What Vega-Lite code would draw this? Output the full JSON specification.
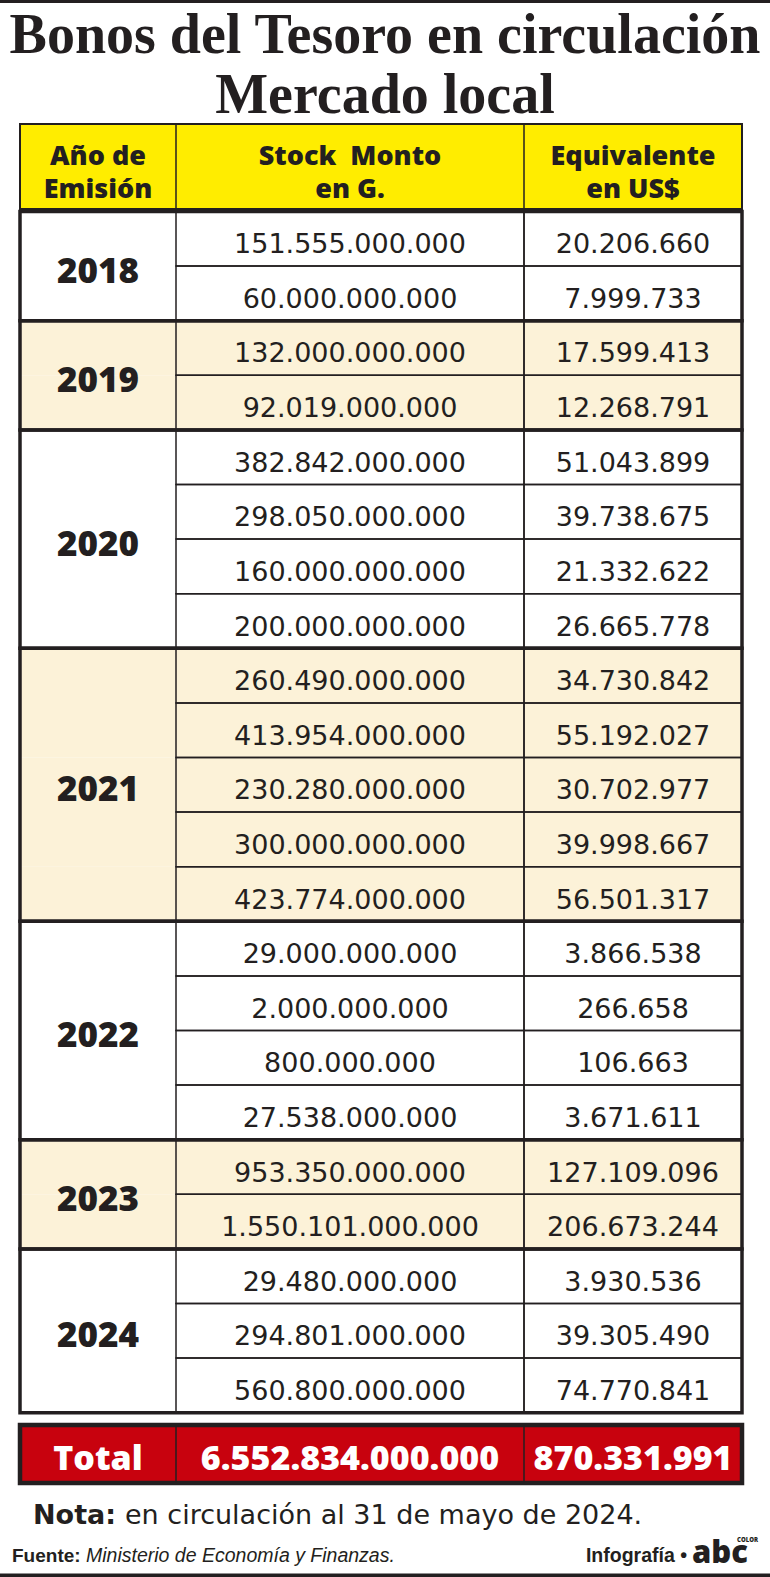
{
  "$schema": "https://vega.github.io/schema/vega-lite/v6.json",
  "width": 770,
  "height": 1577,
  "autosize": {"type": "fit", "contains": "padding"},
  "padding": 0,
  "background": "#ffffff",
  "config": {
    "view": {"stroke": null},
    "locale": {"number": {"decimal": ",", "thousands": ".", "grouping": [3], "currency": ["", ""]}}
  },
  "datasets": {
    "bonos": [
      {"year": "2018", "r": 1, "monto_g": 151555000000, "usd": 20206660},
      {"year": "2018", "r": 2, "monto_g": 60000000000, "usd": 7999733},
      {"year": "2019", "r": 3, "monto_g": 132000000000, "usd": 17599413},
      {"year": "2019", "r": 4, "monto_g": 92019000000, "usd": 12268791},
      {"year": "2020", "r": 5, "monto_g": 382842000000, "usd": 51043899},
      {"year": "2020", "r": 6, "monto_g": 298050000000, "usd": 39738675},
      {"year": "2020", "r": 7, "monto_g": 160000000000, "usd": 21332622},
      {"year": "2020", "r": 8, "monto_g": 200000000000, "usd": 26665778},
      {"year": "2021", "r": 9, "monto_g": 260490000000, "usd": 34730842},
      {"year": "2021", "r": 10, "monto_g": 413954000000, "usd": 55192027},
      {"year": "2021", "r": 11, "monto_g": 230280000000, "usd": 30702977},
      {"year": "2021", "r": 12, "monto_g": 300000000000, "usd": 39998667},
      {"year": "2021", "r": 13, "monto_g": 423774000000, "usd": 56501317},
      {"year": "2022", "r": 14, "monto_g": 29000000000, "usd": 3866538},
      {"year": "2022", "r": 15, "monto_g": 2000000000, "usd": 266658},
      {"year": "2022", "r": 16, "monto_g": 800000000, "usd": 106663},
      {"year": "2022", "r": 17, "monto_g": 27538000000, "usd": 3671611},
      {"year": "2023", "r": 18, "monto_g": 953350000000, "usd": 127109096},
      {"year": "2023", "r": 19, "monto_g": 1550101000000, "usd": 206673244},
      {"year": "2024", "r": 20, "monto_g": 29480000000, "usd": 3930536},
      {"year": "2024", "r": 21, "monto_g": 294801000000, "usd": 39305490},
      {"year": "2024", "r": 22, "monto_g": 560800000000, "usd": 74770841}
    ],
    "total": [{"concepto": "Total", "monto_g": 6552834000000, "usd": 870331991}],
    "encabezado": [
      {"col": "anio", "l1": "Año de", "l2": "Emisión"},
      {"col": "monto", "l1": "Stock\u00a0 Monto", "l2": "en G."},
      {"col": "usd", "l1": "Equivalente", "l2": "en US$"}
    ],
    "titulos": [
      {"parte": "titulo", "t": "Bonos del Tesoro en circulación"},
      {"parte": "subtitulo", "t": "Mercado local"},
      {"parte": "nota_b", "t": "Nota:"},
      {"parte": "nota", "t": "en circulación al 31 de mayo de 2024."},
      {"parte": "fuente_b", "t": "Fuente:"},
      {"parte": "fuente", "t": "Ministerio de Economía y Finanzas."},
      {"parte": "infografia", "t": "Infografía •"},
      {"parte": "logo", "t": "abc"},
      {"parte": "logo2", "t": "COLOR"}
    ]
  },
  "layer": [
    {
      "data": {"values": [{}]},
      "mark": {"type": "rect", "color": "#231f20"},
      "encoding": {
        "x": {"datum": 0, "type": "quantitative", "scale": {"domain": [0, 770], "nice": false, "zero": false}, "axis": null},
        "x2": {"datum": 770},
        "y": {"datum": -3.3736, "type": "quantitative", "scale": {"domain": [-3.3736, 25.5091], "nice": false, "zero": false, "reverse": true}, "axis": null},
        "y2": {"datum": -3.3187}
      }
    },
    {
      "data": {"values": [{}]},
      "mark": {"type": "rect", "color": "#231f20"},
      "encoding": {
        "x": {"datum": 0, "type": "quantitative", "axis": null},
        "x2": {"datum": 770},
        "y": {"datum": 25.445, "type": "quantitative", "axis": null},
        "y2": {"datum": 25.5091}
      }
    },
    {
      "data": {"name": "titulos"},
      "transform": [{"filter": "datum.parte === 'titulo'"}],
      "mark": {"type": "text", "font": "Liberation Serif", "fontWeight": "bold", "fontSize": 56, "align": "center", "baseline": "alphabetic", "color": "#231f20"},
      "encoding": {
        "x": {"datum": 385, "type": "quantitative", "axis": null},
        "y": {"datum": -2.403, "type": "quantitative", "axis": null},
        "text": {"field": "t"}
      }
    },
    {
      "data": {"name": "titulos"},
      "transform": [{"filter": "datum.parte === 'subtitulo'"}],
      "mark": {"type": "text", "font": "Liberation Serif", "fontWeight": "bold", "fontSize": 56, "align": "center", "baseline": "alphabetic", "color": "#231f20"},
      "encoding": {
        "x": {"datum": 385, "type": "quantitative", "axis": null},
        "y": {"datum": -1.304, "type": "quantitative", "axis": null},
        "text": {"field": "t"}
      }
    },
    {
      "data": {"values": [{}]},
      "mark": {"type": "rect", "fill": "#FFED00", "stroke": "#231f20", "strokeWidth": 2},
      "encoding": {
        "x": {"datum": 20, "type": "quantitative", "axis": null},
        "x2": {"datum": 742},
        "y": {"datum": -1.1026, "type": "quantitative", "axis": null},
        "y2": {"datum": 0.4542}
      }
    },
    {
      "data": {"values": [{}]},
      "mark": {"type": "rule", "color": "#231f20", "strokeWidth": 1.5},
      "encoding": {
        "x": {"datum": 176, "type": "quantitative", "axis": null},
        "y": {"datum": -1.1026, "type": "quantitative", "axis": null},
        "y2": {"datum": 0.4542}
      }
    },
    {
      "data": {"values": [{}]},
      "mark": {"type": "rule", "color": "#231f20", "strokeWidth": 1.5},
      "encoding": {
        "x": {"datum": 524, "type": "quantitative", "axis": null},
        "y": {"datum": -1.1026, "type": "quantitative", "axis": null},
        "y2": {"datum": 0.4542}
      }
    },
    {
      "data": {"name": "encabezado"},
      "transform": [{"filter": "datum.col === 'anio'"}],
      "mark": {"type": "text", "font": "Open Sans", "fontWeight": 800, "fontSize": 27, "align": "center", "baseline": "alphabetic", "color": "#231f20"},
      "encoding": {
        "x": {"datum": 98, "type": "quantitative", "axis": null},
        "y": {"datum": -0.357, "type": "quantitative", "axis": null},
        "text": {"field": "l1"}
      }
    },
    {
      "data": {"name": "encabezado"},
      "transform": [{"filter": "datum.col === 'anio'"}],
      "mark": {"type": "text", "font": "Open Sans", "fontWeight": 800, "fontSize": 27, "align": "center", "baseline": "alphabetic", "color": "#231f20"},
      "encoding": {
        "x": {"datum": 98, "type": "quantitative", "axis": null},
        "y": {"datum": 0.253, "type": "quantitative", "axis": null},
        "text": {"field": "l2"}
      }
    },
    {
      "data": {"name": "encabezado"},
      "transform": [{"filter": "datum.col === 'monto'"}],
      "mark": {"type": "text", "font": "Open Sans", "fontWeight": 800, "fontSize": 27, "align": "center", "baseline": "alphabetic", "color": "#231f20"},
      "encoding": {
        "x": {"datum": 350, "type": "quantitative", "axis": null},
        "y": {"datum": -0.357, "type": "quantitative", "axis": null},
        "text": {"field": "l1"}
      }
    },
    {
      "data": {"name": "encabezado"},
      "transform": [{"filter": "datum.col === 'monto'"}],
      "mark": {"type": "text", "font": "Open Sans", "fontWeight": 800, "fontSize": 27, "align": "center", "baseline": "alphabetic", "color": "#231f20"},
      "encoding": {
        "x": {"datum": 350, "type": "quantitative", "axis": null},
        "y": {"datum": 0.253, "type": "quantitative", "axis": null},
        "text": {"field": "l2"}
      }
    },
    {
      "data": {"name": "encabezado"},
      "transform": [{"filter": "datum.col === 'usd'"}],
      "mark": {"type": "text", "font": "Open Sans", "fontWeight": 800, "fontSize": 27, "align": "center", "baseline": "alphabetic", "color": "#231f20"},
      "encoding": {
        "x": {"datum": 633, "type": "quantitative", "axis": null},
        "y": {"datum": -0.357, "type": "quantitative", "axis": null},
        "text": {"field": "l1"}
      }
    },
    {
      "data": {"name": "encabezado"},
      "transform": [{"filter": "datum.col === 'usd'"}],
      "mark": {"type": "text", "font": "Open Sans", "fontWeight": 800, "fontSize": 27, "align": "center", "baseline": "alphabetic", "color": "#231f20"},
      "encoding": {
        "x": {"datum": 633, "type": "quantitative", "axis": null},
        "y": {"datum": 0.253, "type": "quantitative", "axis": null},
        "text": {"field": "l2"}
      }
    },
    {
      "data": {"name": "bonos"},
      "mark": {"type": "rect", "yOffset": -27.3, "y2Offset": 27.3},
      "encoding": {
        "x": {"datum": 20, "type": "quantitative", "axis": null},
        "x2": {"datum": 742},
        "y": {"field": "r", "type": "quantitative", "axis": null},
        "y2": {"field": "r"},
        "fill": {"field": "year", "type": "nominal", "legend": null,
          "scale": {"domain": ["2018", "2019", "2020", "2021", "2022", "2023", "2024"],
                    "range": ["#FFFFFF", "#FCF2D8", "#FFFFFF", "#FCF2D8", "#FFFFFF", "#FCF2D8", "#FFFFFF"]}}
      }
    },
    {
      "data": {"name": "bonos"},
      "mark": {"type": "rect", "yOffset": -27.3, "y2Offset": 27.3, "fill": "transparent", "stroke": "#231f20", "strokeWidth": 1.5},
      "encoding": {
        "x": {"datum": 176, "type": "quantitative", "axis": null},
        "x2": {"datum": 524},
        "y": {"field": "r", "type": "quantitative", "axis": null},
        "y2": {"field": "r"}
      }
    },
    {
      "data": {"name": "bonos"},
      "mark": {"type": "rect", "yOffset": -27.3, "y2Offset": 27.3, "fill": "transparent", "stroke": "#231f20", "strokeWidth": 1.5},
      "encoding": {
        "x": {"datum": 524, "type": "quantitative", "axis": null},
        "x2": {"datum": 742},
        "y": {"field": "r", "type": "quantitative", "axis": null},
        "y2": {"field": "r"}
      }
    },
    {
      "data": {"name": "bonos"},
      "transform": [{"aggregate": [{"op": "min", "field": "r", "as": "rmin"}, {"op": "max", "field": "r", "as": "rmax"}], "groupby": ["year"]}],
      "mark": {"type": "rect", "yOffset": -27.3, "y2Offset": 27.3, "fill": "transparent", "stroke": "#231f20", "strokeWidth": 3.5},
      "encoding": {
        "x": {"datum": 20, "type": "quantitative", "axis": null},
        "x2": {"datum": 742},
        "y": {"field": "rmin", "type": "quantitative", "axis": null},
        "y2": {"field": "rmax"}
      }
    },
    {
      "data": {"name": "bonos"},
      "transform": [{"aggregate": [{"op": "mean", "field": "r", "as": "rmid"}], "groupby": ["year"]}],
      "mark": {"type": "text", "font": "Open Sans", "fontWeight": 900, "fontSize": 35, "align": "center", "baseline": "alphabetic", "dy": 16.5, "color": "#231f20"},
      "encoding": {
        "x": {"datum": 98, "type": "quantitative", "axis": null},
        "y": {"field": "rmid", "type": "quantitative", "axis": null},
        "text": {"field": "year"}
      }
    },
    {
      "data": {"name": "bonos"},
      "mark": {"type": "text", "font": "DejaVu Sans", "fontSize": 27, "align": "center", "baseline": "alphabetic", "dy": 14.5, "color": "#231f20"},
      "encoding": {
        "x": {"datum": 350, "type": "quantitative", "axis": null},
        "y": {"field": "r", "type": "quantitative", "axis": null},
        "text": {"field": "monto_g", "type": "quantitative", "format": ",.0f"}
      }
    },
    {
      "data": {"name": "bonos"},
      "mark": {"type": "text", "font": "DejaVu Sans", "fontSize": 27, "align": "center", "baseline": "alphabetic", "dy": 14.5, "color": "#231f20"},
      "encoding": {
        "x": {"datum": 633, "type": "quantitative", "axis": null},
        "y": {"field": "r", "type": "quantitative", "axis": null},
        "text": {"field": "usd", "type": "quantitative", "format": ",.0f"}
      }
    },
    {
      "data": {"name": "total"},
      "mark": {"type": "rect", "fill": "#C8020E", "stroke": "#231f20", "strokeWidth": 4.5},
      "encoding": {
        "x": {"datum": 20, "type": "quantitative", "axis": null},
        "x2": {"datum": 742},
        "y": {"datum": 22.725, "type": "quantitative", "axis": null},
        "y2": {"datum": 23.788}
      }
    },
    {
      "data": {"name": "total"},
      "mark": {"type": "rule", "color": "#231f20", "strokeWidth": 1.5},
      "encoding": {
        "x": {"datum": 176, "type": "quantitative", "axis": null},
        "y": {"datum": 22.725, "type": "quantitative", "axis": null},
        "y2": {"datum": 23.788}
      }
    },
    {
      "data": {"name": "total"},
      "mark": {"type": "rule", "color": "#231f20", "strokeWidth": 1.5},
      "encoding": {
        "x": {"datum": 524, "type": "quantitative", "axis": null},
        "y": {"datum": 22.725, "type": "quantitative", "axis": null},
        "y2": {"datum": 23.788}
      }
    },
    {
      "data": {"name": "total"},
      "mark": {"type": "text", "font": "Open Sans", "fontWeight": 800, "fontSize": 34, "align": "center", "baseline": "alphabetic", "color": "#ffffff"},
      "encoding": {
        "x": {"datum": 98, "type": "quantitative", "axis": null},
        "y": {"datum": 23.549, "type": "quantitative", "axis": null},
        "text": {"field": "concepto"}
      }
    },
    {
      "data": {"name": "total"},
      "mark": {"type": "text", "font": "Open Sans", "fontWeight": 800, "fontSize": 34, "align": "center", "baseline": "alphabetic", "color": "#ffffff"},
      "encoding": {
        "x": {"datum": 350, "type": "quantitative", "axis": null},
        "y": {"datum": 23.549, "type": "quantitative", "axis": null},
        "text": {"field": "monto_g", "type": "quantitative", "format": ",.0f"}
      }
    },
    {
      "data": {"name": "total"},
      "mark": {"type": "text", "font": "Open Sans", "fontWeight": 800, "fontSize": 34, "align": "center", "baseline": "alphabetic", "color": "#ffffff"},
      "encoding": {
        "x": {"datum": 633, "type": "quantitative", "axis": null},
        "y": {"datum": 23.549, "type": "quantitative", "axis": null},
        "text": {"field": "usd", "type": "quantitative", "format": ",.0f"}
      }
    },
    {
      "data": {"name": "titulos"},
      "transform": [{"filter": "datum.parte === 'nota_b'"}],
      "mark": {"type": "text", "font": "DejaVu Sans", "fontWeight": "bold", "fontSize": 27, "align": "left", "baseline": "alphabetic", "color": "#231f20"},
      "encoding": {
        "x": {"datum": 33, "type": "quantitative", "axis": null},
        "y": {"datum": 24.538, "type": "quantitative", "axis": null},
        "text": {"field": "t"}
      }
    },
    {
      "data": {"name": "titulos"},
      "transform": [{"filter": "datum.parte === 'nota'"}],
      "mark": {"type": "text", "font": "DejaVu Sans", "fontSize": 27, "align": "left", "baseline": "alphabetic", "color": "#231f20"},
      "encoding": {
        "x": {"datum": 125, "type": "quantitative", "axis": null},
        "y": {"datum": 24.538, "type": "quantitative", "axis": null},
        "text": {"field": "t"}
      }
    },
    {
      "data": {"name": "titulos"},
      "transform": [{"filter": "datum.parte === 'fuente_b'"}],
      "mark": {"type": "text", "font": "Liberation Sans", "fontWeight": "bold", "fontSize": 19, "align": "left", "baseline": "alphabetic", "color": "#231f20"},
      "encoding": {
        "x": {"datum": 12, "type": "quantitative", "axis": null},
        "y": {"datum": 25.234, "type": "quantitative", "axis": null},
        "text": {"field": "t"}
      }
    },
    {
      "data": {"name": "titulos"},
      "transform": [{"filter": "datum.parte === 'fuente'"}],
      "mark": {"type": "text", "font": "Liberation Sans", "fontStyle": "italic", "fontSize": 19.5, "align": "left", "baseline": "alphabetic", "color": "#231f20"},
      "encoding": {
        "x": {"datum": 86, "type": "quantitative", "axis": null},
        "y": {"datum": 25.234, "type": "quantitative", "axis": null},
        "text": {"field": "t"}
      }
    },
    {
      "data": {"name": "titulos"},
      "transform": [{"filter": "datum.parte === 'infografia'"}],
      "mark": {"type": "text", "font": "Liberation Sans", "fontWeight": "bold", "fontSize": 19.5, "align": "right", "baseline": "alphabetic", "color": "#231f20"},
      "encoding": {
        "x": {"datum": 687, "type": "quantitative", "axis": null},
        "y": {"datum": 25.234, "type": "quantitative", "axis": null},
        "text": {"field": "t"}
      }
    },
    {
      "data": {"name": "titulos"},
      "transform": [{"filter": "datum.parte === 'logo'"}],
      "mark": {"type": "text", "font": "Open Sans", "fontWeight": 900, "fontSize": 31, "align": "left", "baseline": "alphabetic", "color": "#231f20"},
      "encoding": {
        "x": {"datum": 692, "type": "quantitative", "axis": null},
        "y": {"datum": 25.25, "type": "quantitative", "axis": null},
        "text": {"field": "t"}
      }
    },
    {
      "data": {"name": "titulos"},
      "transform": [{"filter": "datum.parte === 'logo2'"}],
      "mark": {"type": "text", "font": "Open Sans", "fontWeight": 800, "fontSize": 6, "align": "right", "baseline": "alphabetic", "color": "#231f20"},
      "encoding": {
        "x": {"datum": 758, "type": "quantitative", "axis": null},
        "y": {"datum": 24.86, "type": "quantitative", "axis": null},
        "text": {"field": "t"}
      }
    }
  ]
}
